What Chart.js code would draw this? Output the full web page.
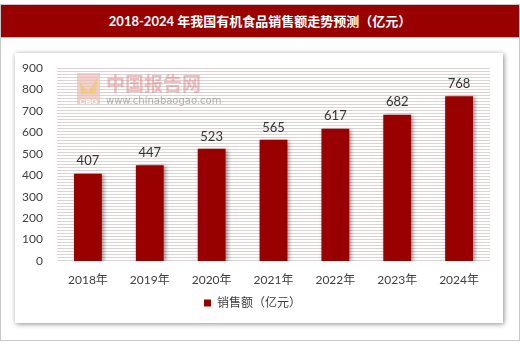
<!DOCTYPE html>
<html>
<head>
<meta charset="utf-8">
<script src="https://cdn.jsdelivr.net/npm/chart.js@4/dist/chart.umd.min.js"></script>
<style>
    body { margin: 0; background: #fff; }
    #frame {
        position: absolute; left: 0; top: 4px; width: 518px; height: 335px;
        border: 1px solid #c8c8c8; background: #fff;
    }
    #title-bar {
        position: absolute; left: 0; top: 0; width: 518px; height: 32px;
        background: #990000; border-bottom: 1px solid #bbb;
        color: #fff; font: bold 13px Lato, "Noto Sans CJK SC", sans-serif;
        text-align: center; line-height: 32px;
    }
    #panel {
        position: absolute; left: 14px; top: 48px; width: 488px; height: 270px;
        background: #fff; box-shadow: 1px 1px 5px rgba(0,0,0,0.45);
    }
</style>
</head>
<body>
<div id="frame">
    <div id="title-bar">2018-2024 年我国有机食品销售额走势预测（亿元）</div>
    <div id="panel"><canvas id="salesChart" width="488" height="270"></canvas></div>
</div>
<script>
// --------------------- Data -------------------
const years = ['2018年', '2019年', '2020年', '2021年', '2022年', '2023年', '2024年'];
const sales = [407, 447, 523, 565, 617, 682, 768];
const seriesName = '销售额（亿元）';

const barColor = '#990000';
const fontFamily = 'Lato, "Noto Sans CJK SC", sans-serif';

// --------------------- Plugins -------------------
// striped plot background + watermark
const backgroundPlugin = {
    id: 'stripes',
    beforeDatasetsDraw(chart) {
        const { ctx, chartArea: a } = chart;
        ctx.save();
        ctx.strokeStyle = '#ddd3d3';
        ctx.lineWidth = 1;
        for (let y = a.top + 0.5; y < a.bottom; y += 3) {
            ctx.beginPath();
            ctx.moveTo(a.left, y);
            ctx.lineTo(a.right, y);
            ctx.stroke();
        }
        // watermark
        ctx.fillStyle = 'rgba(235,190,180,0.7)';
        ctx.fillRect(a.left + 20, a.top + 5, 23, 31);
        ctx.fillStyle = 'rgba(240,200,120,0.8)';
        ctx.beginPath();
        ctx.moveTo(a.left + 23, a.top + 14);
        ctx.lineTo(a.left + 31, a.top + 24);
        ctx.lineTo(a.left + 40, a.top + 10);
        ctx.lineTo(a.left + 39, a.top + 26);
        ctx.lineTo(a.left + 24, a.top + 26);
        ctx.fill();
        ctx.fillStyle = 'rgba(255,255,255,0.9)';
        ctx.font = 'bold 8px sans-serif';
        ctx.textAlign = 'center';
        ctx.fillText('CBG', a.left + 31.5, a.top + 34);
        ctx.textAlign = 'left';
        ctx.textBaseline = 'middle';
        ctx.fillStyle = 'rgba(220,110,110,0.45)';
        ctx.font = 'bold 19px "Noto Sans CJK SC"';
        ctx.fillText('中国报告网', a.left + 49, a.top + 16);
        ctx.fillStyle = 'rgba(120,120,120,0.55)';
        ctx.font = '10px "DejaVu Sans"';
        ctx.fillText('www.chinabaogao.com', a.left + 49, a.top + 33);
        ctx.restore();
        // shadow for the bars
        ctx.save();
        ctx.shadowColor = 'rgba(0,0,0,0.4)';
        ctx.shadowBlur = 4;
        ctx.shadowOffsetX = 2;
        ctx.shadowOffsetY = 1;
    },
    afterDatasetsDraw(chart) {
        chart.ctx.restore();
    }
};

// value labels over the bars
const valueLabels = {
    id: 'valueLabels',
    afterDatasetsDraw(chart) {
        const { ctx } = chart;
        const meta = chart.getDatasetMeta(0);
        ctx.save();
        ctx.fillStyle = '#333';
        ctx.font = '13px ' + fontFamily;
        ctx.textAlign = 'center';
        ctx.textBaseline = 'bottom';
        meta.data.forEach((bar, i) => {
            ctx.fillText(sales[i], bar.x, bar.y - 6);
        });
        ctx.restore();
    }
};

// --------------------- Chart -------------------
const ctx = document.getElementById('salesChart').getContext('2d');
const salesChart = new Chart(ctx, {
    type: 'bar',
    data: {
        labels: years,
        datasets: [{
            label: seriesName,
            data: sales,
            backgroundColor: barColor,
            barPercentage: 0.45,
            categoryPercentage: 1
        }]
    },
    options: {
        responsive: false,
        animation: false,
        layout: { padding: { top: 15, right: 13, bottom: 4, left: 0 } },
        scales: {
            x: {
                grid: { display: false },
                border: { display: false },
                ticks: { color: '#404040', font: { family: fontFamily, size: 12 }, padding: 4 },
                afterFit: s => { s.height = 28; }
            },
            y: {
                min: 0,
                max: 900,
                grid: { display: false, drawTicks: false },
                border: { display: false },
                ticks: { stepSize: 100, color: '#404040', font: { family: fontFamily, size: 12 }, padding: 14 },
                // fixed width, no extra top/bottom room for the labels
                afterFit: s => { s.width = 42; s.paddingTop = 0; s.paddingBottom = 0; }
            }
        },
        plugins: {
            legend: {
                position: 'bottom',
                labels: {
                    boxWidth: 7,
                    boxHeight: 7,
                    padding: 8,
                    color: '#404040',
                    font: { family: fontFamily, size: 12 }
                }
            },
            tooltip: { enabled: false }
        }
    },
    plugins: [backgroundPlugin, valueLabels]
});
</script>
</body>
</html>
